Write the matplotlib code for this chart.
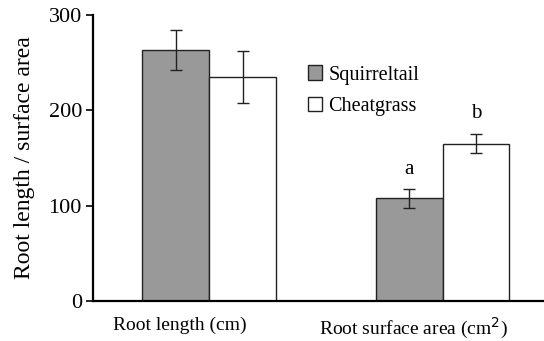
import matplotlib.pyplot as plt
import matplotlib.transforms as mtransforms
import numpy as np

groups = ['Root length (cm)', 'Root surface area (cm$^{2}$)']
species = ['Squirreltail', 'Cheatgrass']
squirreltail = [263, 108]
squirreltail_err = [21, 10]
cheatgrass = [235, 165]
cheatgrass_err = [27, 10]
letters_sq = ['', 'a']
letters_ch = ['', 'b']

plt.rcParams['font.family'] = ['Liberation Serif', 'DejaVu Serif']

fig = plt.figure(figsize=(5.44, 3.41), dpi=100)
ax = fig.add_axes([0.171, 0.117, 0.829, 0.839])

x = np.arange(len(groups))
w = 0.287
ekw = dict(ecolor='#222222', elinewidth=1.0, capsize=4, capthick=1.0)
b1 = ax.bar(x - w / 2, squirreltail, w, yerr=squirreltail_err, color='#999999',
            edgecolor='#222222', linewidth=1.0, error_kw=ekw, label=species[0])
b2 = ax.bar(x + w / 2, cheatgrass, w, yerr=cheatgrass_err, color='white',
            edgecolor='#222222', linewidth=1.0, error_kw=ekw, label=species[1])

for i in range(len(groups)):
    if letters_sq[i]:
        ax.text(x[i] - w / 2, squirreltail[i] + squirreltail_err[i] + 20, letters_sq[i],
                ha='center', va='center', fontsize=15)
    if letters_ch[i]:
        ax.text(x[i] + w / 2, cheatgrass[i] + cheatgrass_err[i] + 22, letters_ch[i],
                ha='center', va='center', fontsize=15)

ax.set_xlim(-0.498, 1.435)
ax.set_ylim(0, 300)
ax.set_yticks([0, 100, 200, 300])
ax.set_xticks(x)
ax.set_xticklabels(groups, fontsize=14)
ax.tick_params(axis='x', length=0, pad=11)
ax.tick_params(axis='y', direction='out', length=5, width=1.2, labelsize=16, pad=3)
ax.set_ylabel('Root length / surface area', fontsize=17, labelpad=10)
for s in ['top', 'right']:
    ax.spines[s].set_visible(False)
for s in ['left', 'bottom']:
    ax.spines[s].set_linewidth(1.6)

# category labels sit a little left of the bar groups in the original
shift = mtransforms.ScaledTranslation(-0.29, 0, fig.dpi_scale_trans)
for lbl in ax.get_xticklabels():
    lbl.set_transform(lbl.get_transform() + shift)

ax.legend(loc='upper left', bbox_to_anchor=(0.437, 0.887), frameon=False, fontsize=14.5,
          handlelength=0.7, handleheight=0.7, handletextpad=0.3, labelspacing=0.6)

fig.savefig('out.png', dpi=100)
